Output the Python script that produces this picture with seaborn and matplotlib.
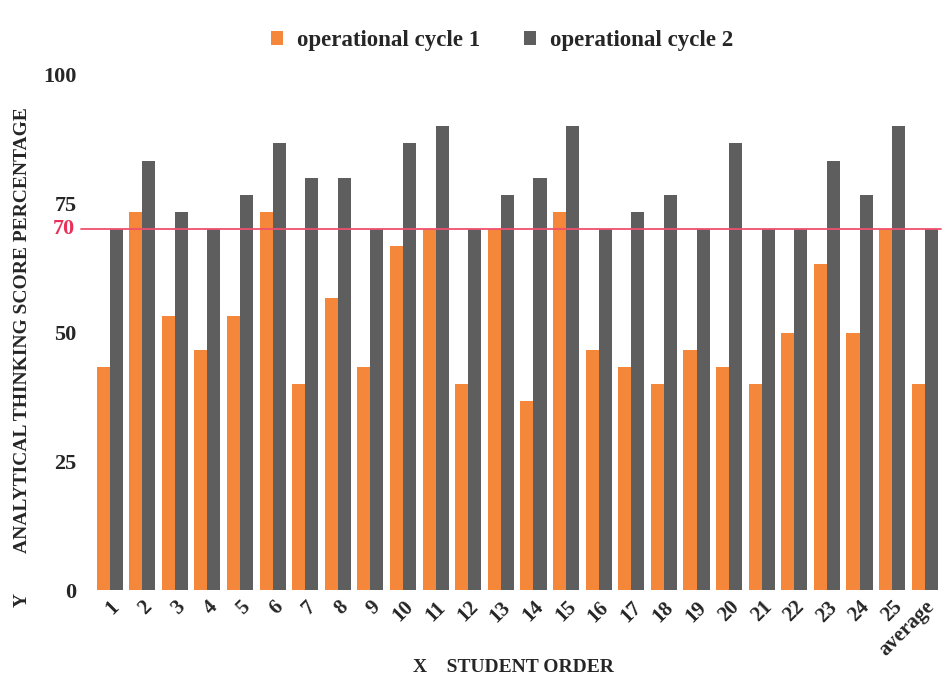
import pandas as pd
import matplotlib.pyplot as plt
import seaborn as sns

# chart values
students = [str(i) for i in range(1, 26)] + ['average']
cycle1 = [43.3, 73.3, 53.3, 46.7, 53.3, 73.3, 40.0, 56.7, 43.3, 66.7, 70.0, 40.0, 70.0,
          36.7, 73.3, 46.7, 43.3, 40.0, 46.7, 43.3, 40.0, 50.0, 63.3, 50.0, 70.0, 40.0]
cycle2 = [70.0, 83.3, 73.3, 70.0, 76.7, 86.7, 80.0, 80.0, 70.0, 86.7, 90.0, 70.0, 76.7,
          80.0, 90.0, 70.0, 73.3, 76.7, 70.0, 86.7, 70.0, 70.0, 83.3, 76.7, 90.0, 70.0]
series_names = ['operational cycle 1', 'operational cycle 2']
threshold = 70

df = pd.DataFrame({
    'student': students * 2,
    'score': cycle1 + cycle2,
    'cycle': [series_names[0]] * len(students) + [series_names[1]] * len(students),
})

sns.set_style('white')
plt.rcParams['font.family'] = ['Liberation Serif', 'DejaVu Serif']
plt.rcParams['font.weight'] = 'bold'

fig = plt.figure(figsize=(9.42, 6.8), dpi=100)
ax = fig.add_axes([0.099, 0.132, 0.9, 0.758])

sns.barplot(data=df, x='student', y='score', hue='cycle', order=students,
            hue_order=series_names, palette=['#F5873A', '#5E5E5E'],
            width=0.8, saturation=1, linewidth=0, ax=ax)

ax.set_ylim(0, 100)
ax.set_xlim(-0.5, len(students) - 0.5)
ax.set_yticks([0, 25, 50, 75, 100])
ax.tick_params(axis='both', length=0)
ax.tick_params(axis='y', labelsize=16, pad=12)
ax.tick_params(axis='x', labelsize=15, pad=5)
for lab in ax.get_xticklabels():
    lab.set_rotation(45)
    lab.set_ha('right')
    lab.set_rotation_mode('anchor')
    lab.set_fontweight('bold')
for lab in ax.get_yticklabels():
    lab.set_fontweight('bold')
sns.despine(ax=ax, left=True, bottom=True)

# reference line at 70
ax.axhline(threshold, color='#F0506E', lw=1.3, xmin=-0.015, clip_on=False)
ax.text(-0.022, threshold, str(threshold), color='#E8305A', fontsize=16,
        fontweight='bold', transform=ax.get_yaxis_transform(), ha='right', va='center')

ax.set_xlabel('')
ax.set_ylabel('')
fig.text(0.545, 0.018, 'X    STUDENT ORDER', fontsize=14, fontweight='bold',
         ha='center', va='center')
fig.text(0.024, 0.515, 'ANALYTICAL THINKING SCORE PERCENTAGE', rotation=90,
         fontsize=14, fontweight='bold', ha='center', va='center')
fig.text(0.024, 0.117, 'Y', rotation=90, fontsize=14, fontweight='bold',
         ha='center', va='center')

handles, labels = ax.get_legend_handles_labels()
ax.get_legend().remove()
fig.legend(handles, labels, loc='center', bbox_to_anchor=(0.533, 0.94), ncol=2,
           frameon=False, prop={'size': 16.5, 'weight': 'bold'},
           handlelength=0.55, handleheight=0.55, handletextpad=0.6, columnspacing=1.9)

fig.savefig('out.png', dpi=100)
